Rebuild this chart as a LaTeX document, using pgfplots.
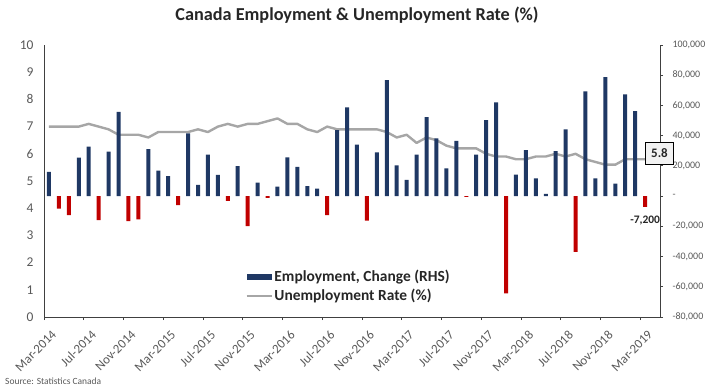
\documentclass[border=0pt]{standalone}
\usepackage{pgfplots}
\pgfplotsset{compat=1.18}
\usepackage{fontspec}
\setmainfont{Carlito}
\definecolor{navy}{HTML}{1F3864}
\definecolor{bred}{HTML}{C00000}
\definecolor{lgrey}{HTML}{A6A6A6}
\definecolor{tgrey}{HTML}{595959}
\definecolor{agrey}{HTML}{404040}
\begin{document}
\begin{tikzpicture}[x=1bp,y=1bp]
\useasboundingbox (0,0) rectangle (706,387);
% Left axis: unemployment rate
\begin{axis}[at={(44bp,70bp)}, anchor=south west, scale only axis,
  width=616bp, height=272bp,
  xmin=0, xmax=62, ymin=0, ymax=10,
  axis x line*=bottom, axis y line*=left,
  axis line style={agrey, line width=1bp},
  xtick={0,4,...,60},
  xticklabels={Mar-2014,Jul-2014,Nov-2014,Mar-2015,Jul-2015,Nov-2015,Mar-2016,Jul-2016,Nov-2016,Mar-2017,Jul-2017,Nov-2017,Mar-2018,Jul-2018,Nov-2018,Mar-2019},
  ytick={0,1,...,10},
  tick align=outside, major tick length=3bp,
  x tick style={agrey, line width=0.8bp},
  y tick style={draw=none},
  x tick label style={xshift=7bp, yshift=-8bp, rotate=45, anchor=north east, font=\fontsize{13}{13}\selectfont, text=tgrey, inner sep=1bp},
  y tick label style={xshift=-4bp, font=\fontsize{13.5}{13.5}\selectfont, text=tgrey},
  /pgf/number format/assume math mode=true,
]
\addplot[lgrey, line width=2.4bp, line join=round] coordinates {
(0.5,7.0)(1.5,7.0)(2.5,7.0)(3.5,7.0)(4.5,7.1)(5.5,7.0)(6.5,6.9)(7.5,6.7)(8.5,6.7)(9.5,6.7)
(10.5,6.6)(11.5,6.8)(12.5,6.8)(13.5,6.8)(14.5,6.8)(15.5,6.9)(16.5,6.8)(17.5,7.0)(18.5,7.1)(19.5,7.0)
(20.5,7.1)(21.5,7.1)(22.5,7.2)(23.5,7.3)(24.5,7.1)(25.5,7.1)(26.5,6.9)(27.5,6.8)(28.5,7.0)(29.5,6.9)
(30.5,6.9)(31.5,6.9)(32.5,6.9)(33.5,6.9)(34.5,6.8)(35.5,6.6)(36.5,6.7)(37.5,6.4)(38.5,6.6)(39.5,6.5)
(40.5,6.3)(41.5,6.2)(42.5,6.2)(43.5,6.2)(44.5,6.0)(45.5,5.9)(46.5,5.9)(47.5,5.8)(48.5,5.8)(49.5,5.9)
(50.5,5.9)(51.5,6.0)(52.5,5.9)(53.5,6.0)(54.5,5.8)(55.5,5.7)(56.5,5.6)(57.5,5.6)(58.5,5.8)(59.5,5.8)
(60.5,5.8)};
\coordinate (lastpt) at (axis cs:60.5,5.8);
\end{axis}
% Right axis: employment change
\begin{axis}[at={(44bp,70bp)}, anchor=south west, scale only axis,
  width=616bp, height=272bp,
  xmin=0, xmax=62, ymin=-80000, ymax=100000,
  axis x line=none, axis y line*=right,
  axis line style={agrey, line width=1bp},
  ytick={-80000,-60000,...,100000},
  yticklabels={{-80,000},{-60,000},{-40,000},{-20,000},{-},{20,000},{40,000},{60,000},{80,000},{100,000}},
  scaled y ticks=false,
  tick align=outside, major tick length=3bp,
  y tick style={agrey, line width=0.8bp},
  y tick label style={anchor=west, font=\fontsize{10}{10}\selectfont, text=tgrey, xshift=6bp},
  legend style={at={(0.322,0.185)}, anchor=north west, draw=none, fill=none,
    font=\bfseries\fontsize{15.5}{15.5}\selectfont, text=black!85, row sep=3bp,
    nodes={inner sep=1.5bp},
    /tikz/every even column/.append style={column sep=2bp}},
  legend cell align=left,
]
\addplot[ybar, bar width=4bp, bar shift=0pt, fill=navy, draw=none,
  legend image code/.code={\fill[navy] (0bp,-3bp) rectangle (25bp,3bp);}] coordinates {
(0.5,16100)(3.5,25400)(4.5,32700)(6.5,29400)(7.5,55800)(10.5,31100)(11.5,16800)(12.5,13200)
(14.5,41500)(15.5,7500)(16.5,27400)(17.5,14100)(19.5,19900)(21.5,9000)(23.5,6200)(24.5,25600)
(25.5,19400)(26.5,6600)(27.5,4900)(29.5,43700)(30.5,58700)(31.5,34000)(33.5,28900)(34.5,76800)
(35.5,20300)(36.5,10800)(37.5,27400)(38.5,52300)(39.5,38200)(40.5,18300)(41.5,36600)(43.5,27400)
(44.5,50300)(45.5,62000)(47.5,14300)(48.5,30500)(49.5,11700)(50.5,1500)(51.5,29800)(52.5,44100)
(54.5,69300)(55.5,11700)(56.5,78800)(57.5,8200)(58.5,67300)(59.5,56300)};
\addlegendentry{Employment, Change (RHS)}
\addplot[ybar, bar width=4bp, bar shift=0pt, fill=bred, draw=none, forget plot] coordinates {
(1.5,-8200)(2.5,-12600)(5.5,-15900)(8.5,-16600)(9.5,-15400)(13.5,-6000)(18.5,-3100)(20.5,-19900)
(22.5,-1100)(28.5,-12600)(32.5,-16300)(42.5,-500)(46.5,-64400)(53.5,-36900)(60.5,-7200)};
\addlegendimage{legend image code/.code={\draw[lgrey, line width=2.4bp] (0bp,0bp) -- (25bp,0bp);}}
\addlegendentry{Unemployment Rate (\%)}
\node[anchor=north, font=\bfseries\fontsize{11.5}{11.5}\selectfont, text=black!85, inner sep=1bp] at (axis cs:60.5,-7200) [yshift=-8bp] {-7,200};
\end{axis}
\node[anchor=west, draw=black, line width=0.8bp, fill=black!5, font=\bfseries\fontsize{13}{13}\selectfont, text=black!85, minimum width=28bp, minimum height=22bp, inner sep=2bp] at ([yshift=6bp]lastpt) {5.8};
\node[font=\bfseries\fontsize{18.3}{18.3}\selectfont, text=black!85] at (357,372) {Canada Employment \& Unemployment Rate (\%)};
\node[anchor=base west, font=\fontsize{9.5}{9.5}\selectfont, text=tgrey, inner sep=0pt] at (5,3) {Source: Statistics Canada};
\end{tikzpicture}
\end{document}
